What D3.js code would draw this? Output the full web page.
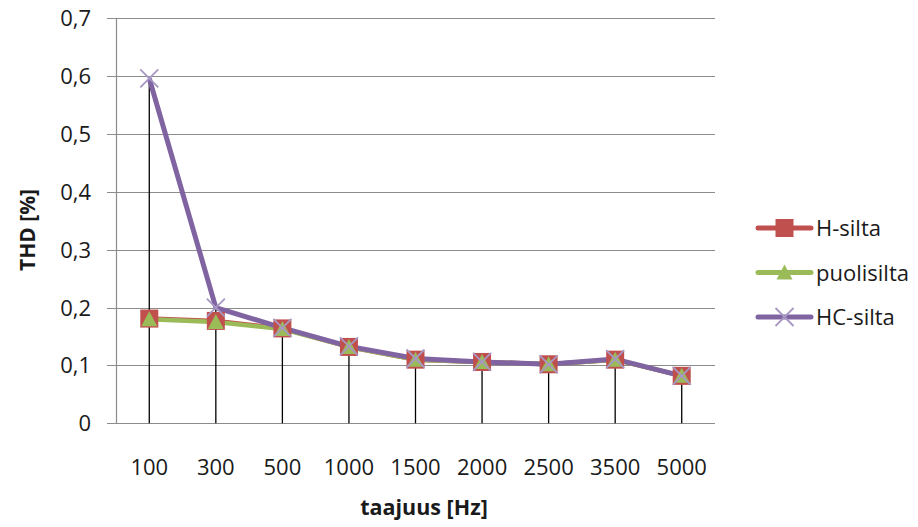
<!DOCTYPE html>
<html>
<head>
<meta charset="utf-8">
<script src="https://cdn.jsdelivr.net/npm/d3@7"></script>
<style>
  body { margin: 0; background: #fff; }
  text { font-family: "Open Sans", "Noto Sans", sans-serif; fill: #1a1a1a; }
</style>
</head>
<body>
<script>
// Categories and series values
const categories = ["100", "300", "500", "1000", "1500", "2000", "2500", "3500", "5000"];
const hSilta     = [0.181, 0.177, 0.164, 0.132, 0.110, 0.106, 0.102, 0.110, 0.082];
const puolisilta = [0.180, 0.175, 0.163, 0.132, 0.110, 0.106, 0.102, 0.110, 0.082];
const hcSilta    = [0.596, 0.200, 0.165, 0.133, 0.112, 0.106, 0.102, 0.111, 0.082];
const yTicks = [0, 0.1, 0.2, 0.3, 0.4, 0.5, 0.6, 0.7];

const series = [
  { name: "H-silta", values: hSilta, color: "#C0504D", marker: "square" },
  { name: "puolisilta", values: puolisilta, color: "#9BBB59", marker: "triangle" },
  { name: "HC-silta", values: hcSilta, color: "#8064A2", marker: "cross" }
];

const W = 918, H = 527;
const svg = d3.select("body").append("svg")
  .attr("width", W).attr("height", H);

const x = d3.scaleBand().domain(categories).range([116, 715]);
const y = d3.scaleLinear().domain([0, 0.7]).range([423.3, 18.3]);
const cx = c => x(c) + x.bandwidth() / 2;

// gridlines
svg.append("g").selectAll("line")
  .data(yTicks).join("line")
  .attr("x1", 107).attr("x2", 715)
  .attr("y1", d => Math.round(y(d)) + 0.5).attr("y2", d => Math.round(y(d)) + 0.5)
  .attr("stroke", "#8c8c8c").attr("stroke-width", 1.2);

// y axis line
svg.append("line")
  .attr("x1", 116.5).attr("x2", 116.5)
  .attr("y1", y(0.7)).attr("y2", y(0))
  .attr("stroke", "#8c8c8c").attr("stroke-width", 1.2);

// y tick labels
const fmt = d => d === 0 ? "0" : d3.format(".1f")(d).replace(".", ",");
svg.append("g").selectAll("text")
  .data(yTicks).join("text")
  .attr("x", 91).attr("y", d => y(d) + 8)
  .attr("text-anchor", "end")
  .attr("font-size", 22)
  .text(fmt);

// x tick labels
svg.append("g").selectAll("text")
  .data(categories).join("text")
  .attr("x", d => cx(d)).attr("y", 475)
  .attr("text-anchor", "middle")
  .attr("font-size", 22)
  .text(d => d);

// drop lines (from highest series value down to axis)
svg.append("g").selectAll("line")
  .data(categories).join("line")
  .attr("x1", d => cx(d)).attr("x2", d => cx(d))
  .attr("y1", (d, i) => y(d3.max(series, s => s.values[i])))
  .attr("y2", y(0))
  .attr("stroke", "#000").attr("stroke-width", 1.3);

// series lines
const line = d3.line().x((d, i) => cx(categories[i])).y(d => y(d));
series.forEach(s => {
  svg.append("path")
    .datum(s.values)
    .attr("fill", "none")
    .attr("stroke", s.color)
    .attr("stroke-width", s.marker === "cross" ? 5 : 4.5)
    .attr("stroke-linejoin", "round")
    .attr("d", line);
});

// markers
function drawMarker(g, type, px, py, color) {
  if (type === "square") {
    g.append("rect")
      .attr("x", px - 9).attr("y", py - 9)
      .attr("width", 18).attr("height", 18)
      .attr("fill", color);
  } else if (type === "triangle") {
    g.append("path")
      .attr("d", `M${px},${py - 8} L${px + 8},${py + 7} L${px - 8},${py + 7} Z`)
      .attr("fill", color);
  } else {
    g.append("path")
      .attr("d", `M${px - 9},${py - 9} L${px + 9},${py + 9} M${px - 9},${py + 9} L${px + 9},${py - 9}`)
      .attr("stroke", "#a797c4").attr("stroke-width", 1.8).attr("fill", "none");
  }
}

series.forEach(s => {
  const g = svg.append("g");
  s.values.forEach((v, i) => drawMarker(g, s.marker, cx(categories[i]), y(v), s.color));
});

// axis titles
svg.append("text")
  .attr("x", 424).attr("y", 515)
  .attr("text-anchor", "middle")
  .attr("font-size", 21.5).attr("font-weight", "bold")
  .text("taajuus [Hz]");

svg.append("text")
  .attr("transform", "translate(35,230) rotate(-90)")
  .attr("text-anchor", "middle")
  .attr("font-size", 21).attr("font-weight", "bold")
  .text("THD [%]");

// legend
const legend = svg.append("g");
series.forEach((s, i) => {
  const ly = 228 + i * 44.5;
  legend.append("line")
    .attr("x1", 758).attr("x2", 811)
    .attr("y1", ly).attr("y2", ly)
    .attr("stroke", s.color).attr("stroke-width", 5)
    .attr("stroke-linecap", "round");
  drawMarker(legend, s.marker, 784.5, ly, s.color);
  legend.append("text")
    .attr("x", 816).attr("y", ly + 8)
    .attr("font-size", 22)
    .text(s.name);
});
</script>
</body>
</html>
